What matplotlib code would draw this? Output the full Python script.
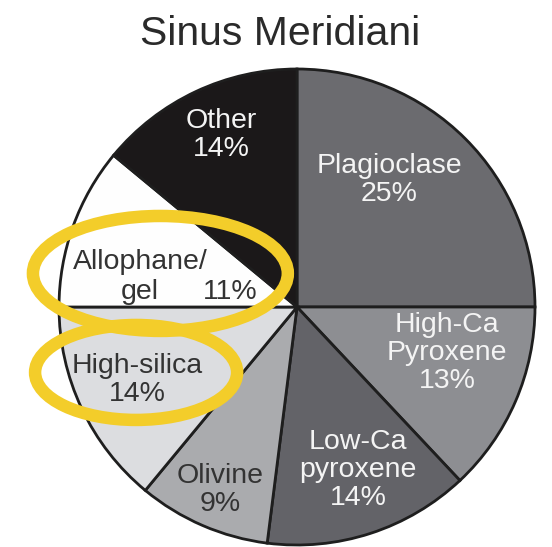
import matplotlib
matplotlib.use("Agg")
import matplotlib.pyplot as plt
from matplotlib.patches import Ellipse

plt.rcParams['font.family'] = ['Liberation Sans', 'DejaVu Sans']

# mineral abundances, clockwise from 12 o'clock
minerals = ["Plagioclase", "High-Ca\nPyroxene", "Low-Ca\npyroxene", "Olivine",
            "High-silica", "Allophane/gel", "Other"]
percent = [25, 13, 14, 9, 14, 11, 14]
colors = ["#6b6b6f", "#8d8e92", "#636368", "#aaabae", "#dcdde0", "#fefefe", "#1b1819"]
text_colors = ["#f4f4f4", "#f4f4f4", "#f4f4f4", "#333333", "#333333", "#333333", "#f4f4f4"]

# where each label sits inside its wedge (data units, pie radius = 1)
label_xy = [(0.387, 0.534), (0.630, -0.193), (0.256, -0.685), (-0.324, -0.769),
            (-0.672, -0.307), None, (-0.319, 0.723)]

fig = plt.figure(figsize=(5.52, 5.47), dpi=100)
ax = fig.add_axes([59 / 552, 2 / 547, 476 / 552, 476 / 547])

wedges, _ = ax.pie(percent, colors=colors, startangle=90, counterclock=False,
                   radius=1, frame=True,
                   wedgeprops=dict(edgecolor="#1e1e1e", linewidth=2))
for w in wedges:
    w.set_clip_on(False)
ax.set_xlim(-1, 1)
ax.set_ylim(-1, 1)
ax.axis("off")

fs = 20.5
for name, p, xy, tc in zip(minerals, percent, label_xy, text_colors):
    if xy is None:
        continue
    ax.text(xy[0], xy[1], f"{name}\n{p}%", ha="center", va="center",
            fontsize=fs, color=tc, linespacing=1.12)

# the allophane label is split across two lines with the value off to the side
ax.text(-0.660, 0.189, "Allophane/", ha="center", va="center", fontsize=fs, color="#333333")
ax.text(-0.660, 0.063, "gel", ha="center", va="center", fontsize=fs, color="#333333")
ax.text(-0.282, 0.063, f"{percent[5]}%", ha="center", va="center", fontsize=fs, color="#333333")

# highlight rings
for cx, cy, w, h in [(-0.574, 0.141, 1.071, 0.483), (-0.676, -0.275, 0.849, 0.399)]:
    ax.add_patch(Ellipse((cx, cy), w, h, fill=False, edgecolor="#f3cd2a",
                         linewidth=9, clip_on=False, zorder=5))

fig.text(280 / 552, 1 - 34 / 547, "Sinus Meridiani", ha="center", va="center",
         fontsize=29.5, color="#2a2a2a")

fig.savefig("out.png", dpi=100)
